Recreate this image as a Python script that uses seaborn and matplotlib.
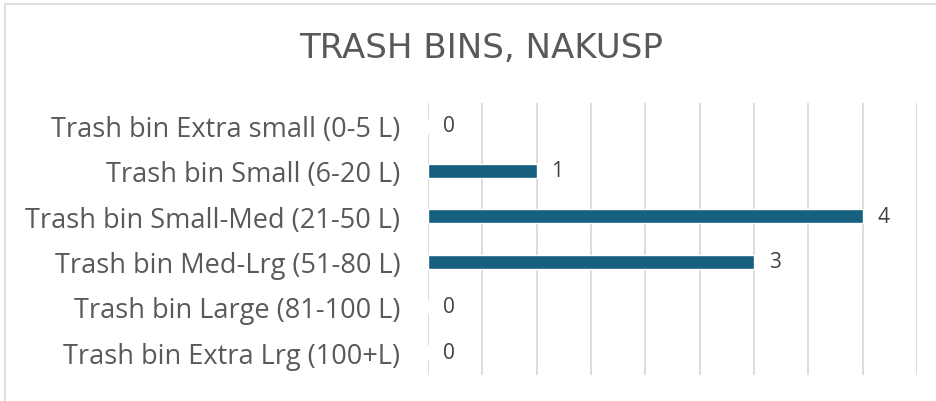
import pandas as pd
import seaborn as sns
import matplotlib.pyplot as plt
import matplotlib.patches as mpatches

# data
categories = [
    'Trash bin Extra small (0-5 L)',
    'Trash bin Small (6-20 L)',
    'Trash bin Small-Med (21-50 L)',
    'Trash bin Med-Lrg (51-80 L)',
    'Trash bin Large (81-100 L)',
    'Trash bin Extra Lrg (100+L)',
]
counts = [0, 1, 4, 3, 0, 0]

df = pd.DataFrame({'bin': categories, 'count': counts})

sns.set_style('white')
plt.rcParams['font.family'] = ['Open Sans', 'DejaVu Sans']

fig = plt.figure(figsize=(9.37, 4.02), dpi=100)
ax = fig.add_axes([0.4568, 0.0647, 0.5219, 0.6766])

sns.barplot(data=df, y='bin', x='count', orient='h', color='#175F7F',
            width=0.31, saturation=1, ax=ax)

ax.set_xlim(0, 4.5)
ax.set_ylim(5.5, -0.5)
ax.set_xticks([i * 0.5 for i in range(10)])
ax.set_xticklabels([])
ax.tick_params(axis='x', length=0)
ax.tick_params(axis='y', length=0, labelsize=19.5, labelcolor='#595959', pad=20)
ax.grid(True, axis='x', color='#D9D9D9', linewidth=1.3)
ax.set_axisbelow(True)
ax.set_xlabel('')
ax.set_ylabel('')
for s in ax.spines.values():
    s.set_visible(False)

# value labels next to each bar
for i, v in enumerate(counts):
    ax.text(v + 0.135, i, str(v), va='center', ha='left', fontsize=15, color='#404040')

fig.text(0.513, 0.88, 'TRASH BINS, NAKUSP', ha='center', va='center',
         fontsize=24.5, color='#595959', family=['DejaVu Sans'])

# chart frame (only left and top edges visible in the crop)
fig.patches.append(mpatches.Rectangle((4.5 / 937, -0.1), 1.2, 1.1 - 4.5 / 402,
                                      transform=fig.transFigure, fill=False,
                                      edgecolor='#D9D9D9', linewidth=1.2))

fig.savefig('out.png', dpi=100)
